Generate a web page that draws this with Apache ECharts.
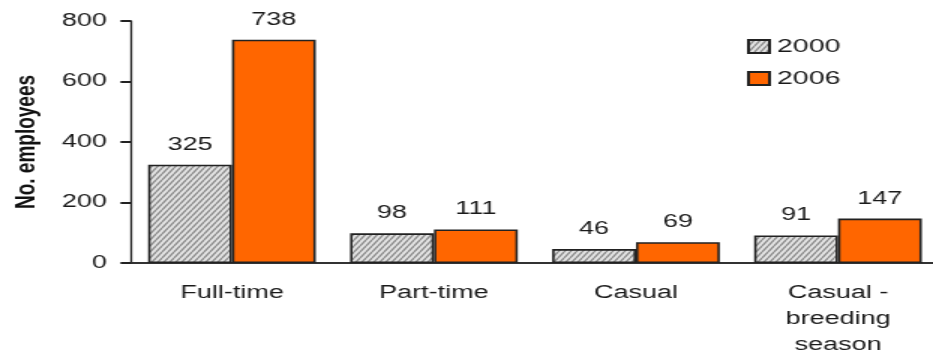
<!DOCTYPE html>
<html>
<head>
<meta charset="utf-8">
<script src="https://cdn.jsdelivr.net/npm/echarts@6/dist/echarts.min.js"></script>
<style>
  html, body { margin: 0; padding: 0; background: #fff; overflow: hidden; }
  /* The chart is laid out on a narrow canvas and widened horizontally,
     which gives the broad, stretched lettering of the printed figure. */
  #wrap { width: 933px; height: 352px; overflow: hidden; }
  #chart { width: 622px; height: 352px; transform: scaleX(1.5); transform-origin: 0 0; }
</style>
</head>
<body>
<div id="wrap"><div id="chart"></div></div>
<script>
// Employment by type, 2000 vs 2006
const categories = ['Full-time', 'Part-time', 'Casual', 'Casual -\nbreeding\nseason'];
const values2000 = [325, 98, 46, 91];
const values2006 = [738, 111, 69, 147];
const seriesNames = ['2000', '2006'];
const yTicks = [0, 200, 400, 600, 800];

// Diagonal hatch fill for the 2000 bars
function hatchPattern() {
  const w = 4, h = 6;
  const c = document.createElement('canvas');
  c.width = w; c.height = h;
  const g = c.getContext('2d');
  g.fillStyle = '#e4e4e4';
  g.fillRect(0, 0, w, h);
  g.strokeStyle = '#8c8c8c';
  g.lineWidth = 1.4;
  g.beginPath();
  g.moveTo(0, h); g.lineTo(w, 0);
  g.moveTo(-w, h); g.lineTo(0, 0);
  g.moveTo(w, h); g.lineTo(2 * w, 0);
  g.stroke();
  return c;
}

const font = 'Liberation Sans, Arial, sans-serif';
const textColor = '#1a1a1a';
const chart = echarts.init(document.getElementById('chart'));
chart.setOption({
  animation: false,
  textStyle: { fontFamily: font },
  legend: {
    orient: 'vertical',
    left: 493,
    top: 32,
    itemWidth: 14,
    itemHeight: 13,
    itemGap: 13,
    icon: 'rect',
    textStyle: { fontSize: 19, color: textColor, fontFamily: font },
    data: seriesNames
  },
  grid: { left: 87.3, top: 21, width: 538.7, height: 242, outerBoundsMode: 'none' },
  xAxis: {
    type: 'category',
    data: categories,
    axisLine: { lineStyle: { color: '#333', width: 2 } },
    axisTick: { show: false },
    axisLabel: { fontSize: 18, color: textColor, margin: 17, lineHeight: 26, fontFamily: font }
  },
  yAxis: {
    type: 'value',
    min: yTicks[0],
    max: yTicks[yTicks.length - 1],
    interval: 200,
    name: 'No. employees',
    nameLocation: 'middle',
    nameGap: 60,
    nameTextStyle: { fontSize: 19, fontWeight: 'bold', color: '#111', fontFamily: font },
    axisLine: { show: true, lineStyle: { color: '#222', width: 1.3 } },
    axisTick: { show: true, length: 7, lineStyle: { color: '#222', width: 2 } },
    splitLine: { show: false },
    axisLabel: { fontSize: 18, color: textColor, margin: 16, fontFamily: font }
  },
  series: [
    {
      name: seriesNames[0],
      type: 'bar',
      data: values2000,
      barGap: '0%',
      barCategoryGap: '17%',
      itemStyle: { color: { image: hatchPattern(), repeat: 'repeat' }, borderColor: '#222', borderWidth: 1.6 },
      label: { show: true, position: 'top', distance: 11, fontSize: 18, color: textColor, fontFamily: font }
    },
    {
      name: seriesNames[1],
      type: 'bar',
      data: values2006,
      itemStyle: { color: '#ff6600', borderColor: '#222', borderWidth: 1.6 },
      label: { show: true, position: 'top', distance: 11, fontSize: 18, color: textColor, fontFamily: font }
    }
  ]
});
</script>
</body>
</html>
